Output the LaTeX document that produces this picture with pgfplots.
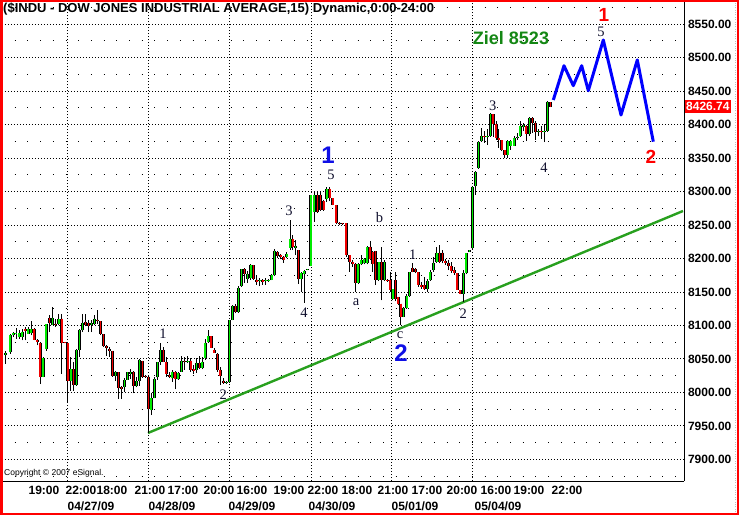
\documentclass[border=0pt]{standalone}
\usepackage{fontspec}
\setmainfont{Liberation Sans}
\newfontfamily\wavefont{Liberation Serif}
\usepackage{pgfplots}
\pgfplotsset{compat=1.18}
\usepackage{pgfplotstable}

\definecolor{candlegreen}{RGB}{0,235,0}
\definecolor{candlered}{RGB}{240,0,0}
\definecolor{trendgreen}{RGB}{40,160,30}
\definecolor{zielgreen}{RGB}{20,135,20}
\definecolor{wavedark}{RGB}{15,15,45}
\definecolor{waveblue}{RGB}{15,15,230}

\pgfplotstableread{
x o h l c
5.7 8056 8062.5 8042.5 8059.5
10.3 8060 8087.5 8057.5 8085
13.3 8086 8090 8082.5 8088.5
16 8086.5 8096.5 8080 8088.5
19.3 8082.5 8092.5 8080 8088.5
22.3 8082.5 8095 8077.5 8090
28.3 8087.5 8097.5 8087.5 8094
31.3 8088.5 8106 8085 8095
43.3 8023.5 8052.5 8022.5 8051
46.3 8065 8102.5 8062.5 8102.5
52.3 8101 8127.5 8101 8111.5
58.7 8102.5 8117.5 8100 8110
70.7 8017.5 8052.5 8002.5 8035
76.3 8011 8065 8010 8063.5
79.3 8063.5 8095 8052.5 8092.5
82.3 8092.5 8117.5 8090 8104
91.3 8101 8107.5 8090 8104
94.3 8102.5 8116 8101 8110
115.3 8025 8032.5 8017.5 8030
124.3 8008.5 8021.5 8000 8018.5
127.3 8018.5 8031 8018.5 8030
130.3 8027.5 8035 8020 8030
136.3 8009 8022.5 8007.5 8017.5
139.3 8017.5 8050 8010 8048.5
151 7973.5 7998.5 7966 7991
154.3 7991 8023.5 7991 8020
157.3 8022.5 8046 8018.5 8045
160.3 8046 8073.5 8041 8063.5
172 8021 8033.5 8016 8031
178 8019.5 8031 8018.5 8029.5
181.3 8031 8054.5 8031 8047.5
187.7 8046 8054.5 8043.5 8047.5
196.3 8033.5 8051 8029.5 8044.5
202 8037 8053.5 8034.5 8046
205 8051 8079.5 8048.5 8073.5
208 8074.5 8092.5 8073.5 8083.5
226.3 8013.5 8016.5 8012.5 8016
229.3 8016 8108.5 8014.5 8107.5
232.3 8108.5 8131 8107.5 8129.5
238.3 8119.5 8158.5 8118.5 8156
241.3 8158.5 8184.5 8157.5 8183.5
247.3 8169.5 8181 8163.5 8177
250.7 8171 8191 8168.5 8189.5
259.7 8166 8171 8158.5 8168.5
265.7 8166 8171 8161 8168.5
268.7 8166 8170 8165 8167.5
271.7 8167.5 8176 8167.5 8174.5
274.3 8174.5 8214.5 8173.5 8211
286.7 8202.5 8209 8200 8206
290 8216 8257.5 8212.5 8229
295.3 8216 8227.5 8205 8219
301 8169 8180 8150 8178.5
304 8176.5 8182.5 8134 8181
307.3 8182 8184 8182 8184
310.7 8189 8294 8189 8294
314 8269 8300 8255 8294
326.7 8289 8306 8284 8304
358 8164 8192.5 8162.5 8191
361 8191 8205 8190 8197.5
364 8192.5 8201 8191 8199
367 8192.5 8219 8191 8217.5
378.7 8167.5 8194 8166 8194
384.3 8167.5 8197.5 8166 8194
392.7 8139 8155 8137.5 8155
403.3 8112.5 8127.5 8112.5 8126
406.7 8126 8147.5 8125 8144
409.3 8144 8179 8142.5 8179
427.3 8155 8170 8150 8166.5
430 8167.5 8182.5 8166.5 8180
433.3 8182.5 8202.5 8180 8193.5
436.7 8195 8217.5 8193.5 8208.5
463.3 8147.5 8182.5 8135 8177.5
466 8178.5 8208.5 8176.5 8207.5
469.3 8210 8212 8210 8212
472.3 8215 8307.5 8213.5 8306.5
475.3 8307.5 8330 8295 8328.5
478.3 8335 8375 8333.5 8373.5
481.3 8375 8395 8373.5 8382.5
487 8381 8393.5 8370 8382.5
490.3 8382.5 8416.5 8381.5 8415
507.7 8355 8377.5 8350 8375
510.7 8367.5 8377.5 8362.5 8375
514 8368.5 8382.5 8367.5 8380
517.3 8380 8387.5 8377.5 8382
520 8382.5 8405 8381.5 8397.5
523.3 8396.5 8402.5 8390 8398.5
529.3 8385 8411.5 8382.5 8410
538.3 8389 8392.5 8382.5 8390.5
544 8389 8400 8373.5 8390.5
547.3 8390 8435 8388.5 8433.5
}\upbars

\pgfplotstableread{
x o h l c
25.3 8094 8097.5 8077.5 8091.5
34.3 8095 8096.5 8077.5 8078.5
37.3 8077.5 8080 8070 8075
40.3 8074 8075 8012.5 8023.5
49.3 8111.5 8115 8090 8103.5
55.3 8102.5 8110 8097.5 8101
61.7 8110 8116.5 8027.5 8073.5
64.7 8075 8075 8073 8073
67.7 8073.5 8073.5 7985 8017.5
73.3 8035 8045 8002.5 8011
85.3 8105 8117.5 8098.5 8100
88.3 8104 8107.5 8090 8099
97.3 8108.5 8122.5 8102.5 8106.5
100.3 8106 8106 8085 8087.5
103.3 8087.5 8087.5 8067.5 8069
106.3 8068.5 8070 8055 8066.5
109.3 8065 8067.5 8052.5 8062.5
112.3 8062.5 8062.5 8023.5 8025
118.3 8030 8030 7990 8006.5
121.3 8007.5 8010 7990 8005
133.3 8030 8032.5 7998.5 8009
142.3 8047.5 8047.5 8021.5 8022.5
145.3 8025 8026 8022 8023.5
148.3 8023.5 8026 7939.4 7975
163.3 8063.5 8067.5 8046 8046
166 8045 8053.5 8023.5 8027.5
169.3 8026 8031 8021 8022.5
175 8031 8032.5 8004.5 8019.5
184.3 8047.5 8053.5 8033.5 8046
190.7 8047.5 8051 8031 8033.5
193.7 8034.5 8041 8027.5 8032.5
199.3 8044.5 8054.5 8034.5 8036
211 8083.5 8084.5 8066 8066
214 8063.5 8066 8058.5 8059.5
217.3 8057.5 8059.5 8031 8033.5
220 8033.5 8038.5 8011 8025
223.3 8017.5 8021 8012.5 8013.5
235.5 8129.5 8132.5 8118.5 8119.5
244.3 8183.5 8186 8163.5 8177
253.5 8189.5 8189.5 8168.5 8169.5
256.7 8168.5 8173.5 8161 8164.5
262.7 8167.5 8169.5 8161 8165.5
277.5 8209.5 8211 8201 8203.5
280.7 8204.5 8206 8198.5 8202.5
283.7 8202.5 8203.5 8193.5 8197.5
292.7 8229 8235 8212.5 8217.5
298.3 8212.5 8212.5 8162.5 8169
317.3 8294 8300 8267.5 8269
320.3 8294 8300 8271 8272.5
323.7 8285 8287.5 8271 8272.5
329.7 8304 8306 8285 8290
332.9 8290 8290 8279 8280
336 8280 8280 8251 8252.5
339.3 8253.5 8255 8250 8251.5
342.5 8252.5 8253.5 8250 8251
346.2 8252.5 8252.5 8202.5 8205
349.7 8205 8205 8180 8194
352.7 8194 8197.5 8187.5 8191
355.3 8191 8192.5 8150 8164
370 8217.5 8225 8197.5 8199
372.7 8210 8211 8180 8191
375.5 8211 8211 8160 8167.5
381.3 8194 8217.5 8137.5 8167.5
387 8167.5 8169 8165 8166
390 8167.5 8180 8150 8152.5
395.5 8167.5 8180 8136 8140
398 8142.5 8142.5 8130 8132.5
400.7 8132.5 8132.5 8100 8112.5
412.5 8185 8192.5 8179 8180
415.3 8184 8185 8177.5 8179
418.2 8179 8179 8157.5 8160
421.2 8160 8165 8155 8157.5
424.2 8160 8172.5 8152.5 8155
439.5 8208.5 8220 8192.5 8195
442.3 8208.5 8212.5 8192.5 8196.5
445.1 8196.5 8198.5 8190 8193.5
448.3 8193.5 8197.5 8182.5 8188.5
451.1 8188.5 8195 8178.5 8181.5
454 8182.5 8186.5 8175 8177.5
457 8177.5 8177.5 8152.5 8153.5
460 8152.5 8153.5 8146.5 8147.5
484.2 8382.5 8390 8372.5 8381
493.2 8415 8415 8381.5 8400
496 8400 8405 8377.5 8380
498.8 8380 8392.5 8365 8376.5
501.8 8376.5 8377.5 8360 8361.5
504.8 8361.5 8362.5 8350 8355
526.2 8397.5 8398.5 8375 8385
532.3 8410 8411.5 8387.5 8401.5
535.3 8402.5 8405 8377.5 8388.5
541.1 8390 8397.5 8378.5 8389
550.3 8433.5 8433.5 8426 8426.74
}\downbars

\begin{document}
\begin{tikzpicture}
\useasboundingbox (0pt,0pt) rectangle (739pt,515pt);
\fill[white] (0pt,0pt) rectangle (739pt,515pt);
\begin{axis}[
  at={(2pt,34pt)}, anchor=south west,
  scale only axis, width=682pt, height=479pt,
  xmin=2, xmax=684, ymin=7867.7, ymax=8582.8,
  axis x line*=bottom, axis y line*=right,
  axis line style={black, line width=0.9pt, -},
  clip=false,
  major tick length=0pt, minor tick length=0pt,
  scaled y ticks=false,
  ytick={7900,7950,...,8550},
  minor ytick={7875,7925,...,8575},
  ymajorgrids=true, yminorgrids=true,
  major y grid style={black, line width=0.8pt, dash pattern=on 0.8pt off 2.2pt},
  minor y grid style={black, line width=0.8pt, dash pattern=on 0.8pt off 11.9pt},
  minor xtick={67,148,229,311,391,472},
  xminorgrids=true, xmajorgrids=false,
  minor x grid style={black, line width=0.8pt, dash pattern=on 0.8pt off 2.2pt},
  /pgf/number format/fixed, /pgf/number format/fixed zerofill,
  /pgf/number format/precision=2, /pgf/number format/1000 sep={},
  /pgf/number format/assume math mode=true,
  yticklabel style={font=\bfseries\fontsize{12}{14}\selectfont, anchor=west, xshift=0.5pt},
  xtick={44,81,112,150,183,219,252,289,323,357,393,427,462,496,529,567},
  xticklabels={19:00,22:00,18:00,21:00,17:00,20:00,16:00,19:00,22:00,18:00,21:00,17:00,20:00,16:00,19:00,22:00},
  xticklabel style={font=\bfseries\fontsize{12}{14}\selectfont, anchor=center, yshift=-9pt},
  extra x ticks={91,172,252,332,415,498},
  extra x tick labels={04/27/09,04/28/09,04/29/09,04/30/09,05/01/09,05/04/09},
  extra x tick style={grid=none, xticklabel style={yshift=-16pt}},
]
% trend line
\addplot[trendgreen, line width=2.4pt] coordinates {(148,7939.4) (683,8270.8)};
% wicks
\addplot[black, line width=0.9pt, quiver={u=0, v=\thisrow{h}-\thisrow{l}}] table[x=x, y=l] {\upbars};
\addplot[black, line width=0.9pt, quiver={u=0, v=\thisrow{h}-\thisrow{l}}] table[x=x, y=l] {\downbars};
% bodies
\addplot[black, line width=3pt, quiver={u=0, v=\thisrow{c}-\thisrow{o}}] table[x=x, y=o] {\upbars};
\addplot[black, line width=3pt, quiver={u=0, v=\thisrow{c}-\thisrow{o}}] table[x=x, y=o] {\downbars};
\addplot[candlegreen, line width=1.6pt, quiver={u=0, v=\thisrow{c}-\thisrow{o}}] table[x=x, y=o] {\upbars};
\addplot[candlered, line width=1.6pt, quiver={u=0, v=\thisrow{c}-\thisrow{o}}] table[x=x, y=o] {\downbars};
% projected wave
\addplot[blue, line width=3pt, line join=round] coordinates {
(553.3,8436.5) (564,8487.7) (573.3,8457.9) (581.7,8487.7) (588.3,8450.4)
(603.3,8526.1) (621,8414.1) (637.3,8496.3) (653.3,8374.3)};

% annotations
\begin{scope}[every node/.append style={inner sep=0pt}]
\node[text=zielgreen, font=\bfseries\fontsize{18}{20}\selectfont] at (axis cs:511,8529) {Ziel 8523};
\node[text=red, font=\bfseries\fontsize{19}{21}\selectfont] at (axis cs:604,8563) {1};
\node[text=red, font=\bfseries\fontsize{19}{21}\selectfont] at (axis cs:651,8352) {2};
\node[text=waveblue, font=\bfseries\fontsize{24}{26}\selectfont] at (axis cs:328,8354) {1};
\node[text=waveblue, font=\bfseries\fontsize{24}{26}\selectfont] at (axis cs:401,8058) {2};
\end{scope}
\begin{scope}[every node/.style={inner sep=0pt, text=wavedark, font=\wavefont\fontsize{14.5}{16}\selectfont}]
\node at (axis cs:601,8538.5) {5};
\node at (axis cs:331,8324.6) {5};
\node at (axis cs:289,8270.8) {3};
\node at (axis cs:379.5,8261) {b};
\node at (axis cs:412.7,8205) {1};
\node at (axis cs:304,8119.6) {4};
\node at (axis cs:356,8135.4) {a};
\node at (axis cs:400,8085.7) {c};
\node at (axis cs:463.3,8118) {2};
\node at (axis cs:163,8088) {1};
\node at (axis cs:223.3,7996) {2};
\node at (axis cs:492.7,8427.6) {3};
\node at (axis cs:544,8336) {4};
\end{scope}
\node[fill=red, text=white, font=\bfseries\fontsize{12}{14}\selectfont, anchor=west, inner xsep=1.5pt, inner ysep=2.5pt] at (axis cs:684.5,8426.74) {8426.74};
\end{axis}
\node[anchor=west, font=\bfseries\fontsize{13}{15}\selectfont, inner sep=0pt] at (3pt,505.5pt) {(\$INDU - DOW JONES INDUSTRIAL AVERAGE,15) Dynamic,0:00-24:00};
\node[anchor=west, font=\fontsize{8.5}{10}\selectfont, inner sep=0pt] at (4pt,42pt) {Copyright © 2007 eSignal.};
\draw[black!25, dash pattern=on 0.8pt off 1.6pt] (735pt,3pt) -- (735pt,512pt);
\draw[red, line width=2.5pt] (1.25pt,1.25pt) rectangle (737.75pt,513.75pt);
\end{tikzpicture}
\end{document}
